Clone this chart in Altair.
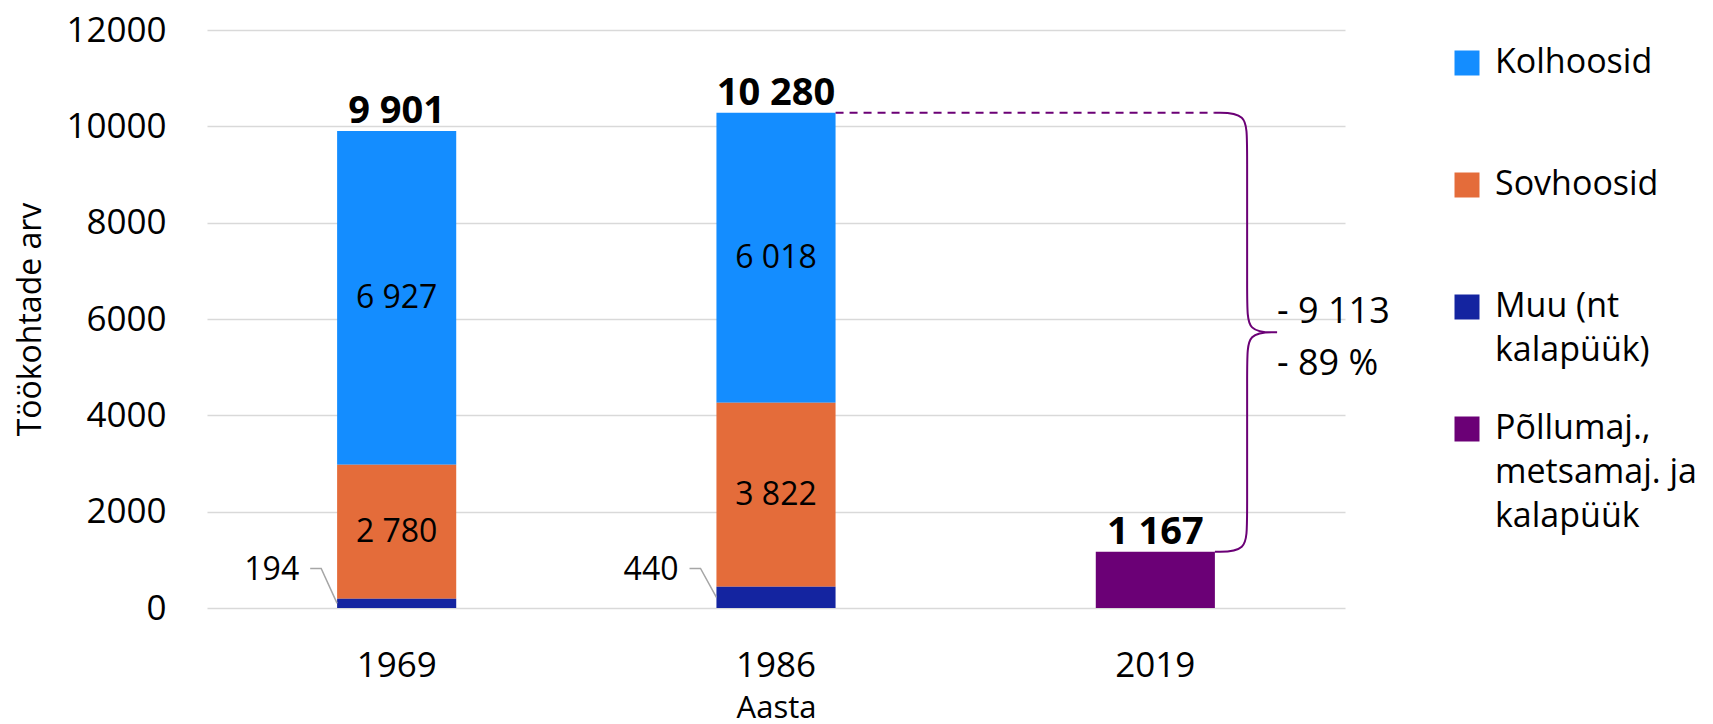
import json
import altair as alt
import pandas as pd

# ---------------- data ----------------
years = ["1969", "1986", "2019"]
categories = ["Kolhoosid", "Sovhoosid", "Muu (nt kalapüük)", "Põllumaj., metsamaj. ja kalapüük"]
legend_lines = [["Kolhoosid"], ["Sovhoosid"], ["Muu (nt", "kalapüük)"],
                ["Põllumaj.,", "metsamaj. ja", "kalapüük"]]
colors = ["#148DFF", "#E46C3A", "#1424A0", "#6B0076"]
kolhoosid = [6927, 6018, 0]
sovhoosid = [2780, 3822, 0]
muu = [194, 440, 0]
pollumaj = [0, 0, 1167]
stack_rank = [2, 1, 0, 3]          # Muu at bottom, then Sovhoosid, Kolhoosid
inside_labelled = ["Kolhoosid", "Sovhoosid"]
leader_labelled = "Muu (nt kalapüük)"
y_ticks = [0, 2000, 4000, 6000, 8000, 10000, 12000]
y_domain = [0, 12000]

FONT = "Open Sans"
W, H = 1138, 578
PAD_INNER = 0.686
HALF = (1 - PAD_INNER) / 2         # half bar width in band steps

series = [kolhoosid, sovhoosid, muu, pollumaj]
rows = []
for ci, (cat, vals) in enumerate(zip(categories, series)):
    for yi, (yr, v) in enumerate(zip(years, vals)):
        if v > 0:
            rows.append({"year": yr, "yi": yi, "category": cat, "value": v, "rank": stack_rank[ci]})
df = pd.DataFrame(rows)

fmt = "replace(format(datum.{f}, ','), ',', ' ')"

xscale = alt.Scale(domain=years, paddingInner=PAD_INNER, paddingOuter=PAD_INNER / 2)
yscale = alt.Scale(domain=y_domain, nice=False)
xq = alt.X("xq:Q", scale=alt.Scale(domain=[0, 3], nice=False, zero=False), axis=None)

label_expr = ""
for name, lines in zip(categories, legend_lines):
    if len(lines) > 1:
        label_expr += f"datum.label === {json.dumps(name, ensure_ascii=False)} ? {json.dumps(lines, ensure_ascii=False)} : "
label_expr += "datum.label"

bars = alt.Chart(df).mark_bar().encode(
    x=alt.X("year:N", scale=xscale, title="Aasta",
            axis=alt.Axis(labelAngle=0, labelFont=FONT, labelFontSize=35, labelColor="black",
                          labelPadding=40, ticks=False, domain=False, grid=False,
                          titleFont=FONT, titleFontSize=31, titleFontWeight="normal",
                          titleColor="black", titleY=100, titleBaseline="middle")),
    y=alt.Y("value:Q", stack="zero", scale=yscale, title="Töökohtade arv",
            axis=alt.Axis(values=y_ticks, format="d", labelFont=FONT, labelFontSize=35,
                          labelColor="black", labelPadding=41, ticks=False, tickSize=0,
                          domain=False, gridColor="#d9d9d9", gridWidth=1.5,
                          titleFont=FONT, titleFontSize=32, titleFontWeight="normal",
                          titleColor="black", titleX=-177, titleY=H / 2, titleAngle=-90,
                          titleAlign="center", titleBaseline="middle")),
    color=alt.Color("category:N", scale=alt.Scale(domain=categories, range=colors),
                    legend=alt.Legend(orient="none", legendX=1243, legendY=16, title=None,
                                      symbolType="square", symbolSize=625, symbolStrokeWidth=0,
                                      labelFont=FONT, labelFontSize=34, labelColor="black",
                                      labelBaseline="middle", labelOffset=11, labelLimit=500,
                                      gridAlign="all", rowPadding=-2, padding=0,
                                      labelExpr=label_expr)),
    order=alt.Order("rank:Q", sort="ascending"),
)

inner = alt.Chart(df).transform_stack(
    stack="value", groupby=["year"], sort=[alt.SortField("rank", "ascending")], as_=["v0", "v1"]
).transform_filter(
    alt.FieldOneOfPredicate(field="category", oneOf=inside_labelled)
).transform_calculate(
    mid="(datum.v0 + datum.v1) / 2", lbl=fmt.format(f="value")
).mark_text(font=FONT, fontSize=32, color="black", baseline="middle").encode(
    x=alt.X("year:N", scale=xscale, axis=None),
    y=alt.Y("mid:Q", scale=yscale, axis=None),
    text="lbl:N",
)

totals = alt.Chart(df).transform_aggregate(
    total="sum(value)", groupby=["year"]
).transform_calculate(lbl=fmt.format(f="total")).mark_text(
    font=FONT, fontSize=38, fontWeight="bold", color="black", baseline="alphabetic", dy=-8
).encode(
    x=alt.X("year:N", scale=xscale, axis=None),
    y=alt.Y("total:Q", scale=yscale, axis=None),
    text="lbl:N",
)

# leader lines for the small "Muu" segments
LEAD_Y, LABEL_Y = 820, 790
lead_rows, lead_lbl = [], []
mi = categories.index(leader_labelled)
for yi, v in enumerate(series[mi]):
    if v <= 0:
        continue
    left = yi + 0.5 - HALF
    for k, (dx, yy) in enumerate([(-0.071, LEAD_Y), (-0.042, LEAD_Y), (0.0, v / 2)]):
        lead_rows.append({"year": years[yi], "idx": k, "xq": left + dx, "yq": yy})
    lead_lbl.append({"xq": left - 0.1, "yq": LABEL_Y, "lbl": f"{v:,}".replace(",", " ")})

leaders = alt.Chart(pd.DataFrame(lead_rows)).mark_line(color="#a6a6a6", strokeWidth=1.5).encode(
    x=xq, y=alt.Y("yq:Q", scale=yscale, axis=None), detail="year:N", order="idx:Q")
leader_text = alt.Chart(pd.DataFrame(lead_lbl)).mark_text(
    font=FONT, fontSize=32, color="black", align="right", baseline="middle").encode(
    x=xq, y=alt.Y("yq:Q", scale=yscale, axis=None), text="lbl:N")

# brace between 1986 total and 2019 total
tot = [k + s + m + p for k, s, m, p in zip(*series)]
top, bot = tot[1], tot[2]
mid = (top + bot) / 2
x_from = 1 + 0.5 + HALF
x0 = 2 + 0.5 + HALF
xv = x0 + 0.085
xt = x0 + 0.164
ry = 620
ctrl = ([(x0, top)] * 3 + [(xv, top), (xv, top - ry), (xv, mid + ry), (xv, mid)] +
        [(xt, mid)] * 3 + [(xv, mid), (xv, mid - ry), (xv, bot + ry), (xv, bot)] + [(x0, bot)] * 3)
brace_df = pd.DataFrame([{"idx": i, "xq": x, "yq": y} for i, (x, y) in enumerate(ctrl)])
brace = alt.Chart(brace_df).mark_line(color="#6B0076", strokeWidth=2, interpolate="basis").encode(
    x=xq, y=alt.Y("yq:Q", scale=yscale, axis=None), order="idx:Q")

dash = alt.Chart(pd.DataFrame([{"xq": x_from, "xq2": x0, "yq": top}])).mark_rule(
    color="#6B0076", strokeWidth=2, strokeDash=[8, 6]).encode(
    x=xq, x2="xq2:Q", y=alt.Y("yq:Q", scale=yscale, axis=None))

diff = top - bot
pct = round(diff / top * 100)
brace_txt = f"- {diff:,}".replace(",", " ") + f"\n- {pct} %"
brace_text = alt.Chart(pd.DataFrame([{"xq": xt, "yq": mid, "lbl": brace_txt}])).mark_text(
    font=FONT, fontSize=36, color="black", align="left", baseline="middle",
    lineBreak="\n", lineHeight=52, dy=-20).encode(
    x=xq, y=alt.Y("yq:Q", scale=yscale, axis=None), text="lbl:N")

chart = alt.layer(bars, inner, totals, leaders, leader_text, dash, brace, brace_text).resolve_scale(
    x="independent"
).resolve_axis(
    x="independent", y="independent"
).properties(
    width=W, height=H, autosize=alt.AutoSizeParams(type="none"),
    padding={"left": 199, "top": 22, "right": 360, "bottom": 116},
).configure(
    background="white", style={"guide-label": {"lineHeight": 44}}
).configure_view(stroke=None)

chart.save("out.html", embed_options={"renderer": "svg", "actions": False})
